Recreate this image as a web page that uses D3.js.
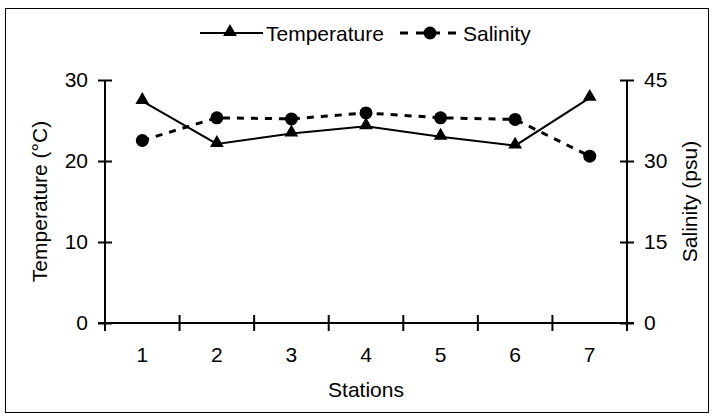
<!DOCTYPE html>
<html>
<head>
<meta charset="utf-8">
<script src="https://cdn.jsdelivr.net/npm/d3@7"></script>
<style>
  body { margin: 0; background: #fff; }
  text { font-family: "Liberation Sans", Arial, sans-serif; fill: #000; }
</style>
</head>
<body>
<svg width="714" height="419"></svg>
<script>
const stations = ["1", "2", "3", "4", "5", "6", "7"];
const temperature = [27.4, 22.1, 23.4, 24.3, 23.0, 21.9, 27.8];
const salinity = [33.8, 38.0, 37.8, 38.9, 38.0, 37.7, 30.9];
const tempTicks = [0, 10, 20, 30];
const salTicks = [0, 15, 30, 45];

const svg = d3.select("svg");
const width = +svg.attr("width");
const height = +svg.attr("height");
const fs = 21;

// outer frame
svg.append("rect")
    .attr("x", 5.5).attr("y", 8.5)
    .attr("width", width - 11).attr("height", height - 15)
    .attr("fill", "none").attr("stroke", "#000").attr("stroke-width", 1);

const plotL = 105, plotR = 627, plotT = 80, plotB = 323;

const x = d3.scaleBand().domain(stations).range([plotL, plotR]);
const yT = d3.scaleLinear().domain([0, 30]).range([plotB, plotT]);
const yS = d3.scaleLinear().domain([0, 45]).range([plotB, plotT]);

// axes
const axisL = svg.append("g").attr("transform", `translate(${plotL},0)`)
    .call(d3.axisLeft(yT).tickValues(tempTicks).tickSize(7).tickPadding(10));
const axisR = svg.append("g").attr("transform", `translate(${plotR},0)`)
    .call(d3.axisRight(yS).tickValues(salTicks).tickSize(7).tickPadding(10));
const axisB = svg.append("g").attr("transform", `translate(0,${plotB})`)
    .call(d3.axisBottom(x).tickSize(0).tickPadding(24));

[axisL, axisR, axisB].forEach(a => {
    a.select(".domain").attr("stroke", "#000").attr("stroke-width", 2);
    a.selectAll("text").attr("font-size", fs).attr("fill", "#000")
        .attr("font-family", "Liberation Sans, Arial, sans-serif");
});
axisL.selectAll(".tick line").attr("x1", 7).attr("stroke-width", 2);
axisR.selectAll(".tick line").attr("x1", -7).attr("stroke-width", 2);
axisL.select(".domain").attr("d", `M0,${plotT}V${plotB}`);
axisR.select(".domain").attr("d", `M0,${plotT}V${plotB}`);
axisB.select(".domain").attr("d", `M${plotL - 7},0H${plotR + 7}`);

// category boundary ticks on x axis
const bounds = stations.map(s => x(s)).concat([x.range()[1]]);
svg.append("g").selectAll("line").data(bounds).join("line")
    .attr("x1", d => d).attr("x2", d => d)
    .attr("y1", plotB - 8).attr("y2", plotB + 8)
    .attr("stroke", "#000").attr("stroke-width", 2);

// axis titles
svg.append("text")
    .attr("transform", `translate(47,${(plotT + plotB) / 2}) rotate(-90)`)
    .attr("text-anchor", "middle").attr("font-size", fs)
    .text("Temperature (°C)");
svg.append("text")
    .attr("transform", `translate(697,${(plotT + plotB) / 2}) rotate(-90)`)
    .attr("text-anchor", "middle").attr("font-size", fs)
    .text("Salinity (psu)");
svg.append("text")
    .attr("x", (plotL + plotR) / 2).attr("y", 397)
    .attr("text-anchor", "middle").attr("font-size", fs)
    .text("Stations");

const cx = d => x(d) + x.bandwidth() / 2;
const tri = d3.symbol().type(d3.symbolTriangle).size(82);

// salinity series
svg.append("path")
    .datum(salinity)
    .attr("fill", "none").attr("stroke", "#000").attr("stroke-width", 3)
    .attr("stroke-dasharray", "7,7")
    .attr("d", d3.line().x((d, i) => cx(stations[i])).y(d => yS(d)));
svg.append("g").selectAll("circle").data(salinity).join("circle")
    .attr("cx", (d, i) => cx(stations[i])).attr("cy", d => yS(d))
    .attr("r", 6.5).attr("fill", "#000");

// temperature series
svg.append("path")
    .datum(temperature)
    .attr("fill", "none").attr("stroke", "#000").attr("stroke-width", 2)
    .attr("d", d3.line().x((d, i) => cx(stations[i])).y(d => yT(d)));
svg.append("g").selectAll("path").data(temperature).join("path")
    .attr("d", tri)
    .attr("transform", (d, i) => `translate(${cx(stations[i])},${yT(d) - 1})`)
    .attr("fill", "#000");

// legend
const lg = svg.append("g");
lg.append("line").attr("x1", 200).attr("x2", 263).attr("y1", 33).attr("y2", 33)
    .attr("stroke", "#000").attr("stroke-width", 2);
lg.append("path").attr("d", tri).attr("transform", "translate(230,32)");
lg.append("text").attr("x", 266).attr("y", 41).attr("font-size", fs).text("Temperature");
lg.append("line").attr("x1", 400).attr("x2", 458).attr("y1", 33).attr("y2", 33)
    .attr("stroke", "#000").attr("stroke-width", 3).attr("stroke-dasharray", "8,8");
lg.append("circle").attr("cx", 430).attr("cy", 33).attr("r", 6.5);
lg.append("text").attr("x", 463).attr("y", 41).attr("font-size", fs).text("Salinity");
</script>
</body>
</html>
